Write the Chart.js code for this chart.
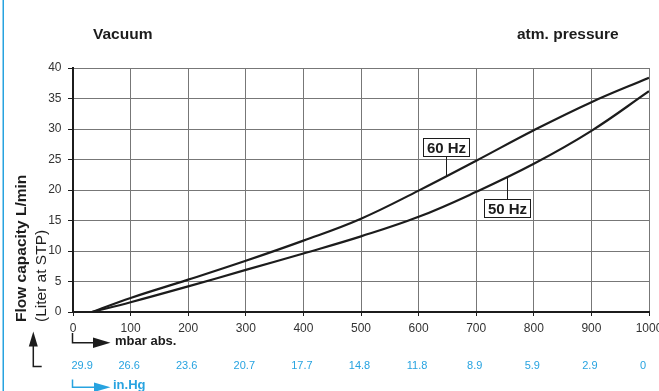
<!DOCTYPE html>
<html>
<head>
<meta charset="utf-8">
<script src="https://cdn.jsdelivr.net/npm/chart.js@4/dist/chart.umd.min.js"></script>
<style>
  html, body { margin: 0; padding: 0; background: #fff; }
  #wrap { width: 659px; height: 391px; position: relative; }
</style>
</head>
<body>
<div id="wrap"><canvas id="c" width="659" height="391"></canvas></div>
<script>
// Pressure in mbar abs. where the curves are sampled
const pressureMbar = [33, 100, 200, 300, 400, 500, 600, 700, 800, 900, 1000];
// Flow capacity, L/min (liter at STP)
const flow60Hz = [0, 2.3, 5.3, 8.4, 11.7, 15.3, 19.9, 24.8, 29.8, 34.4, 38.4];
const flow50Hz = [0, 1.6, 4.2, 6.9, 9.6, 12.4, 15.6, 19.7, 24.3, 29.7, 36.2];
// Axis tick values and the matching vacuum in inches of mercury
const mbarTicks = [0, 100, 200, 300, 400, 500, 600, 700, 800, 900, 1000];
const inHgLabels = ['29.9', '26.6', '23.6', '20.7', '17.7', '14.8', '11.8', '8.9', '5.9', '2.9', '0'];
const seriesNames = ['60 Hz', '50 Hz'];

const FONT = '"Liberation Sans", Arial, Helvetica, sans-serif';
const BLUE = '#27a3e0';
const INK = '#1c1c1c';

function toPoints(ys) {
  return pressureMbar.map((x, i) => ({ x, y: ys[i] }));
}

// curve y (in pixels) at a given pixel x, following the drawn points
function curveYAt(meta, px) {
  const pts = meta.data;
  for (let i = 0; i < pts.length - 1; i++) {
    const a = pts[i], b = pts[i + 1];
    if (px >= a.x && px <= b.x) {
      const t = (px - a.x) / (b.x - a.x);
      return a.y + t * (b.y - a.y);
    }
  }
  return pts[pts.length - 1].y;
}

const decorations = {
  id: 'decorations',
  afterDatasetsDraw(chart) {
    const ctx = chart.ctx;
    const xs = chart.scales.x, ys = chart.scales.y;
    const area = chart.chartArea;
    ctx.save();

    // blue frame rule on the left edge
    ctx.fillStyle = BLUE;
    ctx.fillRect(2.5, 0, 1.5, chart.height);

    // headings above the plot
    ctx.fillStyle = INK;
    ctx.textBaseline = 'alphabetic';
    ctx.textAlign = 'left';
    ctx.font = 'bold 15.5px ' + FONT;
    ctx.fillText('Vacuum', 93, 38.5);
    ctx.fillText('atm. pressure', 517, 38.5);

    // y axis title, two lines
    ctx.save();
    ctx.translate(21.5, 322);
    ctx.rotate(-Math.PI / 2);
    ctx.textBaseline = 'middle';
    ctx.font = 'bold 15.5px ' + FONT;
    ctx.fillText('Flow capacity L/min', 0, 0);
    ctx.restore();
    ctx.save();
    ctx.translate(42, 322);
    ctx.rotate(-Math.PI / 2);
    ctx.textBaseline = 'middle';
    ctx.font = '15.5px ' + FONT;
    ctx.fillText('(Liter at STP)', 0, 0);
    ctx.restore();

    // up arrow for the y axis
    ctx.strokeStyle = INK;
    ctx.lineWidth = 1.5;
    ctx.beginPath();
    ctx.moveTo(33.3, 345);
    ctx.lineTo(33.3, 366.5);
    ctx.lineTo(41.7, 366.5);
    ctx.stroke();
    ctx.beginPath();
    ctx.moveTo(33.3, 331.5);
    ctx.lineTo(28.8, 346.5);
    ctx.lineTo(37.8, 346.5);
    ctx.closePath();
    ctx.fill();

    // mbar abs. arrow
    const x0 = area.left - 0.5;
    ctx.beginPath();
    ctx.moveTo(x0, 333);
    ctx.lineTo(x0, 342.7);
    ctx.lineTo(95, 342.7);
    ctx.stroke();
    ctx.beginPath();
    ctx.moveTo(93, 337.5);
    ctx.lineTo(110.5, 342.7);
    ctx.lineTo(93, 348);
    ctx.closePath();
    ctx.fill();
    ctx.font = 'bold 13px ' + FONT;
    ctx.textBaseline = 'middle';
    ctx.fillText('mbar abs.', 115, 341.5);

    // in.Hg scale row
    ctx.fillStyle = BLUE;
    ctx.font = '11px ' + FONT;
    ctx.textBaseline = 'middle';
    mbarTicks.forEach((v, i) => {
      const px = xs.getPixelForValue(v);
      if (i === 0) { ctx.textAlign = 'left'; ctx.fillText(inHgLabels[i], px - 1.5, 365.5); }
      else if (i === mbarTicks.length - 1) { ctx.textAlign = 'right'; ctx.fillText(inHgLabels[i], px - 3, 365.5); }
      else { ctx.textAlign = 'center'; ctx.fillText(inHgLabels[i], px - 1.5, 365.5); }
    });

    // in.Hg arrow
    ctx.strokeStyle = BLUE;
    ctx.beginPath();
    ctx.moveTo(x0, 379.5);
    ctx.lineTo(x0, 387.3);
    ctx.lineTo(96, 387.3);
    ctx.stroke();
    ctx.beginPath();
    ctx.moveTo(94, 382.5);
    ctx.lineTo(110.5, 387.3);
    ctx.lineTo(94, 392);
    ctx.closePath();
    ctx.fill();
    ctx.textAlign = 'left';
    ctx.font = 'bold 13px ' + FONT;
    ctx.fillText('in.Hg', 113, 385.5);

    // series labels with leader lines
    const boxes = chart.options.plugins.decorations.boxes;
    boxes.forEach(b => {
      const meta = chart.getDatasetMeta(b.dataset);
      const cx = Math.round(xs.getPixelForValue(b.x)) + 0.5;
      const top = Math.round(ys.getPixelForValue(b.top)) + 0.5;
      const w = 46, h = 18;
      const cy = curveYAt(meta, cx);
      ctx.strokeStyle = INK;
      ctx.lineWidth = 1;
      ctx.beginPath();
      if (b.below) { ctx.moveTo(cx, top); ctx.lineTo(cx, cy); }
      else { ctx.moveTo(cx, top + h); ctx.lineTo(cx, cy); }
      ctx.stroke();
      ctx.fillStyle = '#fff';
      ctx.fillRect(cx - w / 2, top, w, h);
      ctx.strokeRect(cx - w / 2, top, w, h);
      ctx.fillStyle = INK;
      ctx.font = 'bold 15px ' + FONT;
      ctx.textAlign = 'center';
      ctx.textBaseline = 'middle';
      ctx.fillText(seriesNames[b.dataset], cx, top + h / 2 + 1);
    });

    ctx.restore();
  }
};

const gridColor = '#777';

new Chart(document.getElementById('c'), {
  type: 'line',
  data: {
    datasets: [
      { label: seriesNames[0], data: toPoints(flow60Hz) },
      { label: seriesNames[1], data: toPoints(flow50Hz) }
    ].map(d => Object.assign(d, {
      borderColor: INK,
      borderWidth: 2.2,
      pointRadius: 0,
      fill: false,
      tension: 0.4
    }))
  },
  options: {
    responsive: false,
    animation: false,
    devicePixelRatio: 1,
    layout: { padding: { left: 0, top: 68, right: 10, bottom: 49 } },
    plugins: {
      legend: { display: false },
      tooltip: { enabled: false },
      decorations: {
        boxes: [
          { dataset: 0, x: 648, top: 28.5, below: false },
          { dataset: 1, x: 754, top: 18.6, below: true }
        ]
      }
    },
    scales: {
      x: {
        type: 'linear',
        min: 0, max: 1000,
        afterBuildTicks(s) { s.ticks = mbarTicks.map(v => ({ value: v })); },
        afterFit(s) { s.height = 30; s.paddingLeft = 0; s.paddingRight = 0; },
        grid: { color: gridColor, lineWidth: 1, tickLength: 4, tickColor: INK },
        border: { display: true, color: INK, width: 2 },
        ticks: { color: '#333', padding: 5, maxRotation: 0, autoSkip: false,
                 callback: v => String(v),
                 font: { family: FONT, size: 12 } }
      },
      y: {
        min: 0, max: 40,
        ticks: { stepSize: 5, color: '#333', padding: 6.5,
                 font: { family: FONT, size: 12 } },
        afterFit(s) { s.width = 73; s.paddingTop = 0; s.paddingBottom = 0; },
        grid: { color: gridColor, lineWidth: 1, tickLength: 5, tickColor: INK },
        border: { display: true, color: INK, width: 2 }
      }
    }
  },
  plugins: [decorations]
});
</script>
</body>
</html>
